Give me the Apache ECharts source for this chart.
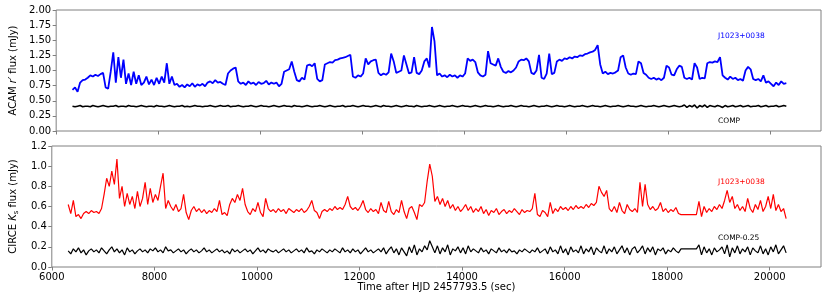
<!DOCTYPE html>
<html>
<head>
<meta charset="utf-8">
<script src="https://cdn.jsdelivr.net/npm/echarts@6/dist/echarts.min.js"></script>
<style>
html,body{margin:0;padding:0;background:#fff;}
#c{width:830px;height:298px;}
</style>
</head>
<body>
<div id="c"></div>
<script>
// Sampling: one value every 50 s starting at 6320 s
const T_START = 6320;
const T_STEP = 50;

const xTicks = [6000, 8000, 10000, 12000, 14000, 16000, 18000, 20000];

// ACAM r' flux of J1023+0038 (mJy)
const acamTarget = [
  0.68,0.72,0.65,0.80,0.84,0.85,0.88,0.92,0.90,0.93,0.91,0.94,0.96,0.72,0.70,0.98,1.30,0.80,1.22,0.88,
  1.18,0.78,0.95,0.76,0.98,0.78,0.92,0.76,0.80,0.90,0.77,0.85,0.76,0.88,0.78,0.90,0.80,1.12,0.78,0.90,
  0.76,0.78,0.73,0.76,0.72,0.77,0.74,0.79,0.73,0.77,0.75,0.78,0.74,0.80,0.82,0.79,0.84,0.80,0.81,0.78,
  0.76,0.95,1.00,1.03,1.05,0.82,0.78,0.80,0.76,0.82,0.78,0.80,0.76,0.81,0.78,0.79,0.83,0.77,0.80,0.78,
  0.80,0.74,0.78,0.98,1.00,1.02,1.15,0.98,0.84,0.82,0.88,0.85,1.08,1.10,1.07,1.12,0.86,0.82,0.84,1.10,
  1.12,1.14,1.13,1.17,1.18,1.20,1.21,1.22,1.24,1.26,0.90,0.88,0.92,0.90,0.95,1.20,1.10,1.15,1.17,1.18,
  0.96,0.92,0.95,0.93,0.97,1.28,1.15,0.96,0.98,1.00,1.25,1.10,0.95,0.97,1.22,0.96,0.94,1.00,1.15,1.20,
  1.05,1.72,1.48,0.92,0.95,0.90,0.92,0.89,0.93,0.90,0.92,0.88,0.92,0.90,0.95,1.20,1.16,1.18,1.14,0.97,
  0.92,0.90,0.93,1.32,1.12,1.10,1.08,1.20,1.06,0.98,0.96,0.99,0.97,1.00,1.05,1.15,1.18,1.17,1.20,1.15,
  0.96,0.94,1.00,1.26,0.88,0.86,0.95,1.28,0.94,0.96,1.15,1.18,1.16,1.20,1.19,1.22,1.20,1.23,1.22,1.25,
  1.24,1.27,1.28,1.30,1.31,1.34,1.42,1.10,0.95,0.98,0.94,0.96,0.95,0.97,1.00,1.22,1.25,1.05,0.95,0.93,
  0.95,0.94,1.15,1.12,0.96,0.93,0.88,0.86,0.88,0.85,0.87,0.84,0.88,1.08,1.05,0.93,0.92,1.02,1.08,1.06,
  0.88,0.86,0.88,0.85,1.12,1.05,0.86,0.88,0.87,1.12,1.14,1.13,1.15,1.14,1.22,0.92,0.88,0.85,0.90,0.86,
  0.88,0.84,0.86,0.83,1.00,1.06,1.02,0.86,0.84,0.86,0.82,0.92,0.80,0.82,0.78,0.74,0.80,0.76,0.82,0.78,
  0.79
];

// ACAM r' flux of comparison star (mJy)
const acamComp = [
  0.41,0.40,0.41,0.42,0.40,0.41,0.41,0.40,0.42,0.41,0.40,0.41,0.42,0.41,0.40,0.41,0.41,0.42,0.40,0.41,
  0.41,0.40,0.42,0.41,0.41,0.40,0.41,0.42,0.41,0.40,0.41,0.41,0.40,0.42,0.41,0.41,0.40,0.41,0.42,0.41,
  0.40,0.41,0.41,0.42,0.40,0.41,0.40,0.41,0.42,0.41,0.41,0.40,0.41,0.41,0.42,0.41,0.40,0.41,0.42,0.41,
  0.41,0.42,0.40,0.41,0.41,0.42,0.41,0.40,0.41,0.41,0.42,0.41,0.40,0.41,0.42,0.41,0.41,0.40,0.41,0.42,
  0.41,0.40,0.41,0.42,0.41,0.41,0.40,0.42,0.41,0.41,0.40,0.41,0.42,0.41,0.40,0.41,0.41,0.42,0.41,0.40,
  0.41,0.42,0.41,0.40,0.41,0.41,0.42,0.40,0.41,0.41,0.42,0.41,0.40,0.41,0.42,0.41,0.41,0.40,0.41,0.42,
  0.41,0.40,0.42,0.41,0.41,0.40,0.41,0.42,0.41,0.40,0.41,0.42,0.41,0.41,0.40,0.42,0.41,0.40,0.41,0.41,
  0.42,0.41,0.40,0.41,0.42,0.41,0.40,0.41,0.41,0.42,0.41,0.40,0.41,0.42,0.41,0.41,0.40,0.41,0.42,0.41,
  0.40,0.41,0.42,0.41,0.41,0.40,0.41,0.42,0.41,0.40,0.41,0.41,0.42,0.41,0.40,0.41,0.42,0.41,0.41,0.40,
  0.41,0.42,0.41,0.40,0.41,0.41,0.42,0.41,0.40,0.41,0.42,0.41,0.41,0.40,0.41,0.42,0.41,0.40,0.41,0.41,
  0.42,0.41,0.40,0.41,0.42,0.41,0.41,0.40,0.41,0.42,0.41,0.40,0.41,0.41,0.42,0.41,0.40,0.41,0.42,0.41,
  0.41,0.40,0.41,0.42,0.41,0.40,0.41,0.41,0.42,0.41,0.40,0.41,0.42,0.41,0.40,0.41,0.42,0.41,0.40,0.41,
  0.43,0.39,0.42,0.40,0.43,0.38,0.42,0.40,0.43,0.39,0.42,0.41,0.40,0.42,0.41,0.39,0.42,0.40,0.41,0.42,
  0.40,0.41,0.42,0.40,0.41,0.42,0.40,0.41,0.41,0.42,0.40,0.41,0.42,0.40,0.41,0.41,0.42,0.40,0.41,0.42,
  0.41
];

// CIRCE Ks flux of J1023+0038 (mJy); null = no data (gap)
const circeTarget = [
  0.62,0.53,0.66,0.50,0.52,0.48,0.53,0.55,0.53,0.56,0.54,0.55,0.53,0.58,0.72,0.88,0.80,0.95,0.82,1.07,
  0.68,0.80,0.60,0.73,0.62,0.70,0.58,0.75,0.60,0.68,0.84,0.62,0.78,0.64,0.72,0.66,0.80,0.93,0.58,0.66,
  0.60,0.56,0.62,0.55,0.58,0.72,0.54,0.47,0.56,0.60,0.55,0.58,0.54,0.57,0.53,0.56,0.54,0.58,0.55,0.66,
  0.52,0.54,0.51,0.62,0.68,0.64,0.72,0.66,0.78,0.62,0.55,0.52,0.58,0.55,0.64,0.54,0.50,0.68,0.58,0.55,
  0.57,0.54,0.58,0.55,0.57,0.53,0.58,0.56,0.54,0.57,0.55,0.58,0.54,0.56,0.60,0.66,0.56,0.54,0.48,0.55,
  0.57,0.55,0.58,0.56,0.60,0.57,0.59,0.57,0.62,0.70,0.60,0.57,0.59,0.56,0.60,0.66,0.57,0.54,0.58,0.55,
  0.57,0.53,0.64,0.56,0.54,0.65,0.55,0.52,0.57,0.54,0.66,0.55,0.48,0.58,0.60,0.54,0.47,0.62,0.60,0.64,
  0.85,1.02,0.90,0.65,0.70,0.62,0.68,0.60,0.66,0.58,0.62,0.56,0.60,0.55,0.58,0.62,0.56,0.60,0.54,0.58,
  0.55,0.60,0.53,0.57,0.51,0.56,0.54,0.58,0.52,0.55,0.57,0.53,0.56,0.54,0.58,0.55,0.52,0.57,0.54,0.56,
  0.55,0.58,0.73,0.52,0.50,0.56,0.54,0.50,0.64,0.53,0.58,0.55,0.60,0.57,0.59,0.56,0.60,0.57,0.61,0.58,
  0.60,0.58,0.62,0.59,0.63,0.61,0.64,0.80,0.74,0.70,0.76,0.58,0.55,0.60,0.54,0.64,0.56,0.53,0.62,0.57,
  0.55,0.58,0.54,0.84,0.60,0.82,0.62,0.57,0.60,0.56,0.58,0.64,0.55,0.58,0.54,0.57,0.55,0.59,0.53,0.52,
  null,null,null,null,null,0.52,0.65,0.50,0.60,0.54,0.58,0.55,0.60,0.57,0.62,0.58,0.66,0.76,0.64,0.70,
  0.58,0.62,0.56,0.60,0.55,0.68,0.58,0.54,0.62,0.57,0.66,0.55,0.60,0.70,0.58,0.72,0.56,0.62,0.55,0.58,
  0.48
];

// CIRCE Ks flux of comparison star minus 0.25 (mJy); null = no data (gap)
const circeComp = [
  0.16,0.13,0.18,0.15,0.19,0.14,0.17,0.12,0.16,0.18,0.15,0.17,0.14,0.19,0.16,0.13,0.17,0.20,0.15,0.18,
  0.14,0.17,0.12,0.19,0.15,0.17,0.13,0.16,0.18,0.15,0.17,0.14,0.18,0.16,0.19,0.15,0.17,0.14,0.20,0.16,
  0.17,0.14,0.16,0.18,0.15,0.17,0.13,0.16,0.18,0.15,0.17,0.14,0.16,0.19,0.15,0.17,0.14,0.16,0.18,0.15,
  0.17,0.14,0.16,0.13,0.18,0.15,0.17,0.14,0.16,0.18,0.15,0.17,0.13,0.16,0.19,0.15,0.17,0.14,0.18,0.16,
  0.15,0.17,0.14,0.16,0.18,0.15,0.17,0.14,0.16,0.18,0.15,0.17,0.14,0.19,0.15,0.16,0.13,0.17,0.15,0.18,
  0.16,0.14,0.17,0.15,0.18,0.16,0.14,0.19,0.15,0.17,0.14,0.18,0.15,0.17,0.13,0.16,0.19,0.15,0.17,0.14,
  0.16,0.18,0.15,0.19,0.13,0.17,0.20,0.14,0.18,0.12,0.19,0.15,0.11,0.20,0.14,0.22,0.12,0.18,0.15,0.21,
  0.17,0.26,0.20,0.14,0.21,0.13,0.19,0.15,0.22,0.12,0.18,0.16,0.20,0.14,0.19,0.13,0.21,0.15,0.18,0.16,
  0.14,0.19,0.15,0.17,0.13,0.18,0.16,0.14,0.19,0.15,0.17,0.14,0.18,0.15,0.16,0.13,0.17,0.15,0.18,0.16,
  0.14,0.17,0.15,0.19,0.14,0.16,0.18,0.13,0.20,0.15,0.17,0.13,0.21,0.14,0.18,0.12,0.20,0.15,0.17,0.14,
  0.21,0.13,0.18,0.15,0.20,0.12,0.19,0.16,0.14,0.21,0.13,0.18,0.15,0.20,0.13,0.17,0.21,0.14,0.19,0.12,
  0.18,0.20,0.14,0.17,0.21,0.13,0.19,0.15,0.20,0.12,0.18,0.16,0.19,0.13,0.17,0.15,0.19,0.16,0.14,0.18,
  null,null,null,null,null,0.18,0.22,0.12,0.20,0.14,0.18,0.12,0.19,0.15,0.17,0.20,0.13,0.22,0.10,0.19,
  0.14,0.21,0.13,0.18,0.15,0.20,0.12,0.19,0.16,0.14,0.21,0.13,0.18,0.12,0.20,0.15,0.22,0.13,0.17,0.21,
  0.14
];

const times = acamTarget.map((_, i) => T_START + i * T_STEP);
const pair = arr => arr.map((v, i) => [times[i], v]);

const FONT = 'DejaVu Sans';
const GRAY = '#808080';
const FS = 10;

const chart = echarts.init(document.getElementById('c'), null, {renderer: 'canvas'});

const xBase = {
  type: 'value', min: 6000, max: 21000,
  axisLine: {show: false},
  axisTick: {show: true, customValues: xTicks, length: 3.5, inside: false, lineStyle: {color: GRAY, width: 1}},
  splitLine: {show: false}
};

chart.setOption({
  animation: false,
  backgroundColor: '#fff',
  grid: [
    {left: 51, top: 10, width: 770, height: 121, show: true, borderColor: GRAY, borderWidth: 1, backgroundColor: 'transparent'},
    {left: 51, top: 146, width: 770, height: 121, show: true, borderColor: GRAY, borderWidth: 1, backgroundColor: 'transparent'}
  ],
  xAxis: [
    Object.assign({}, xBase, {gridIndex: 0, axisLabel: {show: false}}),
    Object.assign({}, xBase, {
      gridIndex: 1,
      axisLabel: {show: true, customValues: xTicks, margin: 5, fontFamily: FONT, fontSize: FS, color: '#000', formatter: v => String(v)},
      name: 'Time after HJD 2457793.5 (sec)', nameLocation: 'middle', nameGap: 15,
      nameTextStyle: {fontFamily: FONT, fontSize: FS, color: '#000'}
    })
  ],
  yAxis: [
    {
      gridIndex: 0, type: 'value', min: 0, max: 2, interval: 0.25,
      axisLine: {show: false}, splitLine: {show: false},
      axisTick: {show: true, length: 3.5, lineStyle: {color: GRAY}},
      axisLabel: {margin: 5, fontFamily: FONT, fontSize: FS, color: '#000', formatter: v => v.toFixed(2)},
      name: '{n|ACAM }{i|r′}{n| flux (mJy)}', nameLocation: 'middle', nameGap: 23, nameRotate: 90,
      nameTextStyle: {rich: {
        n: {fontFamily: FONT, fontSize: FS, color: '#000'},
        i: {fontFamily: FONT, fontSize: FS, fontStyle: 'italic', color: '#000'}
      }}
    },
    {
      gridIndex: 1, type: 'value', min: 0, max: 1.2, interval: 0.2,
      axisLine: {show: false}, splitLine: {show: false},
      axisTick: {show: true, length: 3.5, lineStyle: {color: GRAY}},
      axisLabel: {margin: 5, fontFamily: FONT, fontSize: FS, color: '#000', formatter: v => v.toFixed(1)},
      name: '{n|CIRCE }{i|K}{s|s}{n| flux (mJy)}', nameLocation: 'middle', nameGap: 21, nameRotate: 90,
      nameTextStyle: {rich: {
        n: {fontFamily: FONT, fontSize: FS, color: '#000', lineHeight: 14},
        i: {fontFamily: FONT, fontSize: FS, fontStyle: 'italic', color: '#000', lineHeight: 14},
        s: {fontFamily: FONT, fontSize: 7, color: '#000', verticalAlign: 'bottom', lineHeight: 14}
      }}
    }
  ],
  series: [
    {type: 'line', xAxisIndex: 0, yAxisIndex: 0, data: pair(acamTarget), showSymbol: false, lineStyle: {color: '#0000ff', width: 1.8}, itemStyle: {color: '#0000ff'}},
    {type: 'line', xAxisIndex: 0, yAxisIndex: 0, data: pair(acamComp), showSymbol: false, lineStyle: {color: '#000', width: 1.6}, itemStyle: {color: '#000'}},
    {type: 'line', xAxisIndex: 1, yAxisIndex: 1, data: pair(circeTarget), connectNulls: true, showSymbol: false, lineStyle: {color: '#ff0000', width: 1.2}, itemStyle: {color: '#ff0000'}},
    {type: 'line', xAxisIndex: 1, yAxisIndex: 1, data: pair(circeComp), connectNulls: true, showSymbol: false, lineStyle: {color: '#000', width: 1.2}, itemStyle: {color: '#000'}}
  ],
  graphic: [
    {type: 'text', left: 718, top: 32, style: {text: 'J1023+0038', fill: '#0000ff', font: '7.5px "DejaVu Sans"'}},
    {type: 'text', left: 718, top: 117, style: {text: 'COMP', fill: '#000', font: '7.5px "DejaVu Sans"'}},
    {type: 'text', left: 718, top: 178, style: {text: 'J1023+0038', fill: '#ff0000', font: '7.5px "DejaVu Sans"'}},
    {type: 'text', left: 718, top: 234, style: {text: 'COMP-0.25', fill: '#000', font: '7.5px "DejaVu Sans"'}}
  ]
});
</script>
</body>
</html>
